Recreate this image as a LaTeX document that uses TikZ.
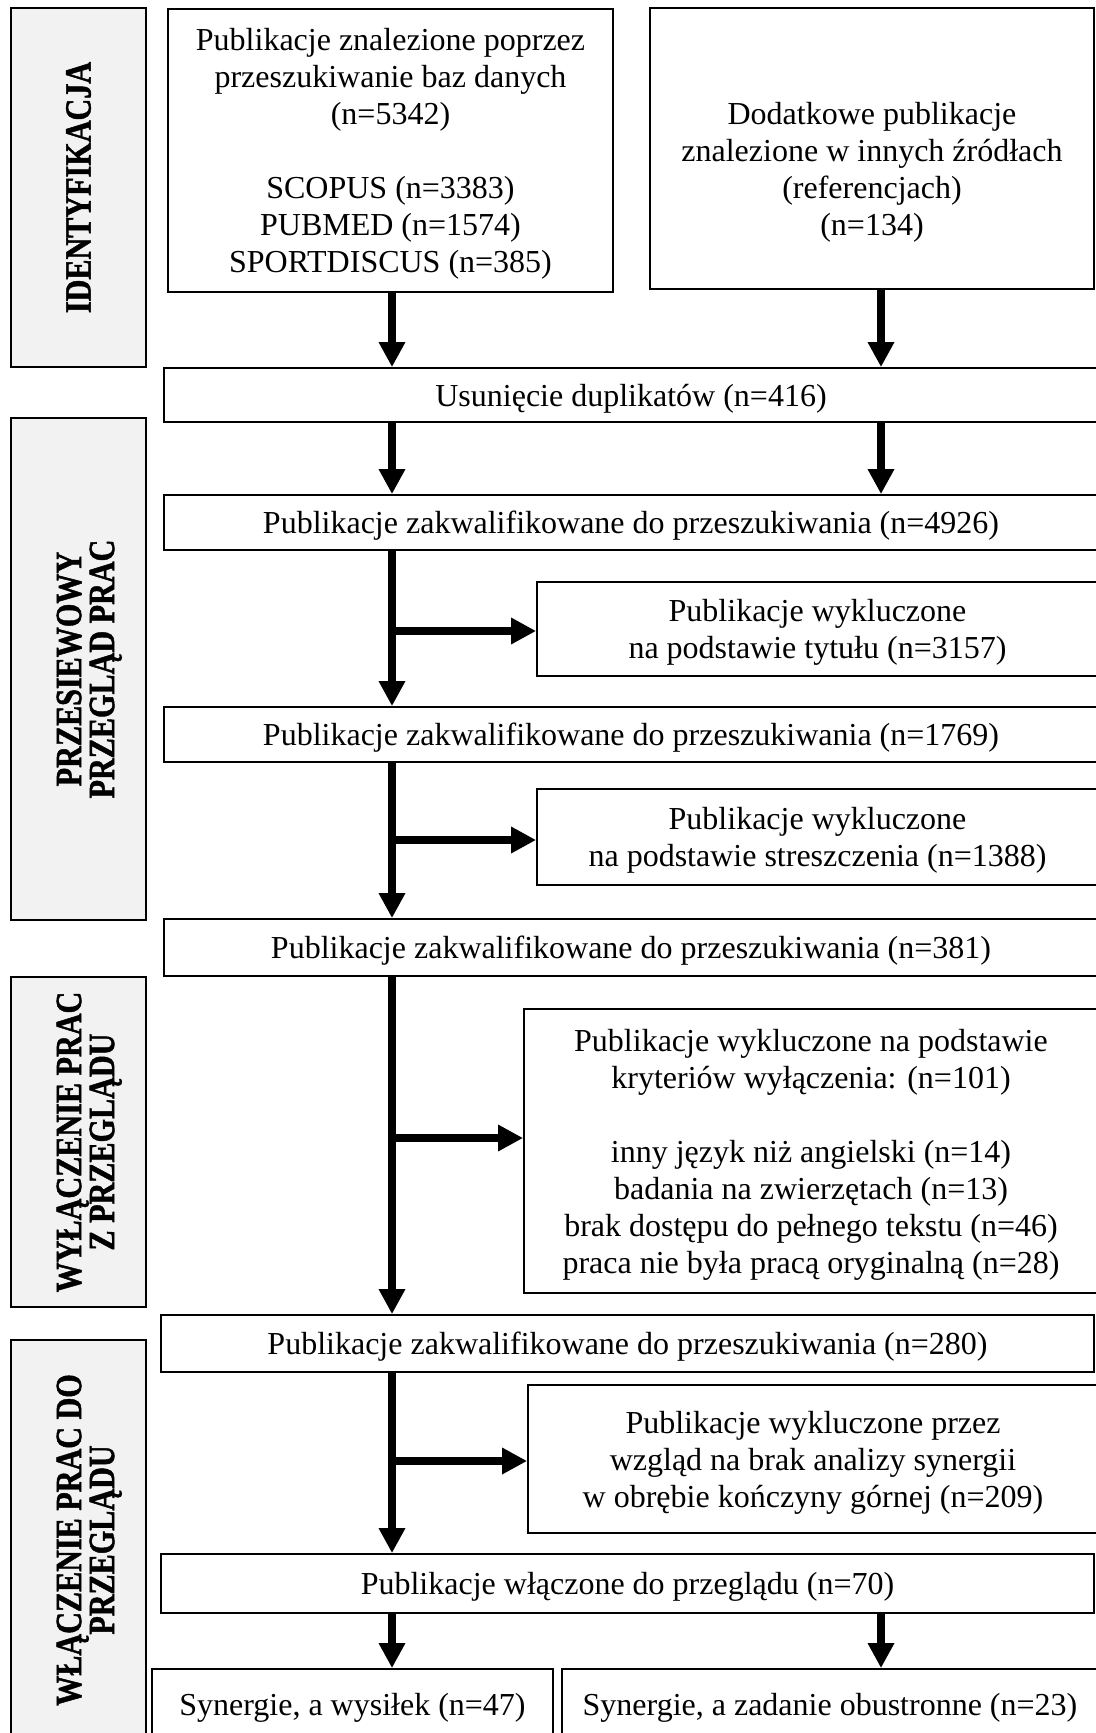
\documentclass[tikz,border=0pt]{standalone}
\usepackage{fontspec}
\setmainfont{Liberation Serif}
\newfontfamily\phasefont[FakeStretch=0.815, BoldFeatures={FakeBold=1.2}]{Liberation Serif}
\usepackage{tikz}
\usetikzlibrary{positioning, arrows.meta}
\definecolor{PhGray}{RGB}{242,242,242}
\newcommand{\phasegap}{\rule{0pt}{23pt}}

\begin{document}
\begin{tikzpicture}[x=0.5pt, y=-0.5pt,
          box/.style={rectangle, draw=black, line width=0.9pt, align=center,
                      inner sep=0pt, text depth=-1pt,
                      font=\fontsize{16}{18.5}\selectfont},
          phase/.style={rectangle, draw=black, line width=1.4pt, fill=PhGray,
                        rotate=90, align=center, inner sep=0pt,
                        font=\phasefont\bfseries\fontsize{18.5}{16.5}\selectfont},
          arr/.style={-{Triangle[length=12.5pt, width=12.5pt]}, line width=4pt}
        ]
        \useasboundingbox (0,0) rectangle (1096,1733);

        % Phases (left column)
        \node[phase, minimum width=179.5pt, minimum height=67.5pt]
              (ph1) at (78.5,187.5) {IDENTYFIKACJA};
        \node[phase, minimum width=251pt, minimum height=67.5pt]
              (ph2) at (78.5,669) {\phasegap PRZESIEWOWY\\PRZEGLĄD PRAC};
        \node[phase, minimum width=165pt, minimum height=67.5pt]
              (ph3) at (78.5,1142) {\phasegap WYŁĄCZENIE PRAC\\Z PRZEGLĄDU};
        \node[phase, minimum width=200pt, minimum height=67.5pt]
              (ph4) at (78.5,1540) {\phasegap WŁĄCZENIE PRAC DO\\PRZEGLĄDU};

        % Sources
        \node[box, minimum width=222.5pt, minimum height=141.5pt]
              (src1) at (390.5,150.5)
              {Publikacje znalezione poprzez\\przeszukiwanie baz danych\\(n=5342)\\[18.5pt]
               SCOPUS (n=3383)\\PUBMED (n=1574)\\SPORTDISCUS (n=385)};
        \node[box, minimum width=222pt, minimum height=140.5pt]
              (src2) at (872,148.5)
              {\strut\\Dodatkowe publikacje\\znalezione w innych źródłach\\
               (referencjach)\\(n=134)};

        \coordinate (colL) at (392,0);
        \coordinate (colR) at (881,0);

        % Main flow
        \node[box, minimum width=467pt, minimum height=27pt]
              (dup) at (631,395) {Usunięcie duplikatów (n=416)};
        \node[box, minimum width=467pt, minimum height=27.5pt]
              (scr1) at (631,522.5)
              {Publikacje zakwalifikowane do przeszukiwania (n=4926)};
        \node[box, minimum width=467pt, minimum height=27.5pt]
              (scr2) at (631,734.5)
              {Publikacje zakwalifikowane do przeszukiwania (n=1769)};
        \node[box, minimum width=467pt, minimum height=28.5pt]
              (scr3) at (631,947.5)
              {Publikacje zakwalifikowane do przeszukiwania (n=381)};
        \node[box, minimum width=466.5pt, minimum height=28.5pt]
              (scr4) at (627.5,1343.5)
              {Publikacje zakwalifikowane do przeszukiwania (n=280)};
        \node[box, minimum width=466.5pt, minimum height=29.5pt]
              (incl) at (627.5,1583.5)
              {Publikacje włączone do przeglądu (n=70)};

        % Exclusions
        \node[box, minimum width=280.5pt, minimum height=47pt]
              (ex1) at (817.5,629)
              {Publikacje wykluczone\\na podstawie tytułu (n=3157)};
        \node[box, minimum width=280.5pt, minimum height=48pt]
              (ex2) at (817.5,837)
              {Publikacje wykluczone\\na podstawie streszczenia (n=1388)};
        \node[box, minimum width=287pt, minimum height=142pt]
              (ex3) at (811,1151)
              {Publikacje wykluczone na podstawie\\kryteriów wyłączenia: (n=101)\\[18.5pt]
               inny język niż angielski (n=14)\\badania na zwierzętach (n=13)\\
               brak dostępu do pełnego tekstu (n=46)\\
               praca nie była pracą oryginalną (n=28)};
        \node[box, minimum width=285pt, minimum height=74pt]
              (ex4) at (813,1459)
              {Publikacje wykluczone przez\\wzgląd na brak analizy synergii\\
               w obrębie kończyny górnej (n=209)};

        % Final groups
        \node[box, minimum width=200.5pt, minimum height=35pt]
              (fin1) at (352.5,1704) {Synergie, a wysiłek (n=47)};
        \node[box, minimum width=268pt, minimum height=35pt]
              (fin2) at (830,1704) {Synergie, a zadanie obustronne (n=23)};

        % Arrows
        \draw[arr] (src1.south -| colL) -- (dup.north -| colL);
        \draw[arr] (src2.south -| colR) -- (dup.north -| colR);
        \draw[arr] (dup.south -| colL)  -- (scr1.north -| colL);
        \draw[arr] (dup.south -| colR)  -- (scr1.north -| colR);

        \coordinate (k1) at (392,631);
        \coordinate (k2) at (392,840);
        \coordinate (k3) at (392,1138);
        \coordinate (k4) at (392,1461);
        \draw[arr] (scr1.south -| colL) -- (scr2.north -| colL);
        \draw[arr] (k1) -- (k1 -| ex1.west);
        \draw[arr] (scr2.south -| colL) -- (scr3.north -| colL);
        \draw[arr] (k2) -- (k2 -| ex2.west);
        \draw[arr] (scr3.south -| colL) -- (scr4.north -| colL);
        \draw[arr] (k3) -- (k3 -| ex3.west);
        \draw[arr] (scr4.south -| colL) -- (incl.north -| colL);
        \draw[arr] (k4) -- (k4 -| ex4.west);

        \draw[arr] (incl.south -| colL) -- (fin1.north -| colL);
        \draw[arr] (incl.south -| colR) -- (fin2.north -| colR);
      \end{tikzpicture}
\end{document}
